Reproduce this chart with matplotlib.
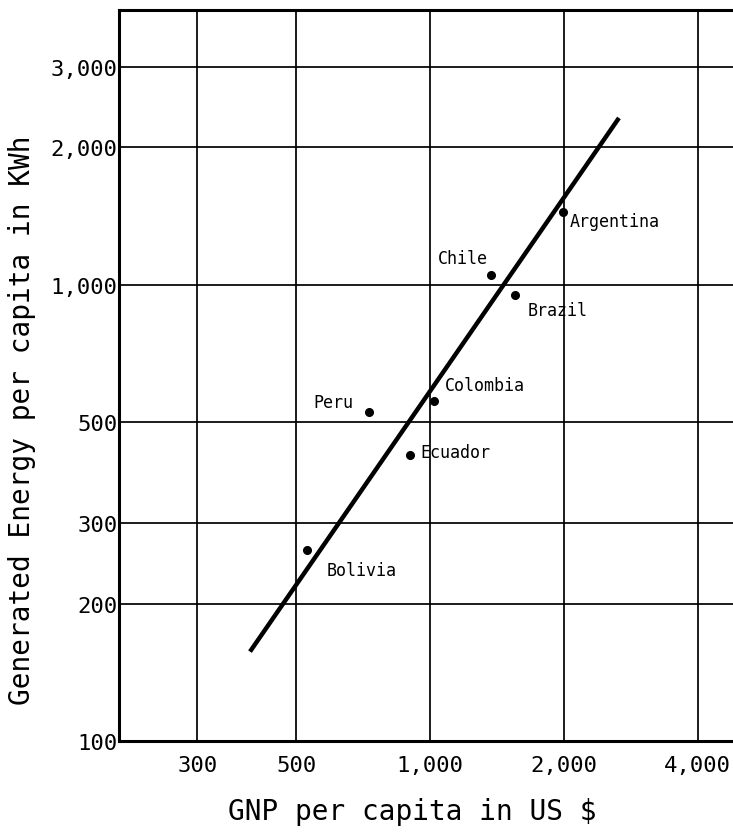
import matplotlib
matplotlib.use("Agg")
import matplotlib.pyplot as plt
from matplotlib.ticker import FixedLocator, FixedFormatter, NullLocator

# ---- data ----
countries = ["Argentina", "Chile", "Brazil", "Colombia", "Peru", "Ecuador", "Bolivia"]
gnp = [1990, 1375, 1555, 1020, 728, 900, 530]
energy = [1445, 1052, 951, 557, 527, 423, 262]

fit_gnp = [394, 2660]
fit_energy = [157, 2320]

x_ticks = [300, 500, 1000, 2000, 4000]
x_tick_labels = ["300", "500", "1,000", "2,000", "4,000"]
y_ticks = [100, 200, 300, 500, 1000, 2000, 3000]
y_tick_labels = ["100", "200", "300", "500", "1,000", "2,000", "3,000"]

# label placement: (ha, dx_px, dy_px)
label_pos = {
    "Argentina": ("left", 7, -9),
    "Chile": ("right", -4, 17),
    "Brazil": ("left", 12, -15),
    "Colombia": ("left", 11, 16),
    "Peru": ("right", -15, 10),
    "Ecuador": ("left", 11, 3),
    "Bolivia": ("left", 19, -20),
}

FONT = ["DejaVu Sans Mono"]
plt.rcParams["font.family"] = FONT

fig = plt.figure(figsize=(7.33, 8.37), dpi=100)
ax = fig.add_axes([119 / 733, 95 / 837, 1 - 119 / 733, (742 - 11) / 837])

ax.set_xscale("log")
ax.set_yscale("log")
ax.set_xlim(200, 4800)
ax.set_ylim(100, 4000)

ax.xaxis.set_major_locator(FixedLocator(x_ticks))
ax.xaxis.set_major_formatter(FixedFormatter(x_tick_labels))
ax.yaxis.set_major_locator(FixedLocator(y_ticks))
ax.yaxis.set_major_formatter(FixedFormatter(y_tick_labels))
ax.xaxis.set_minor_locator(NullLocator())
ax.yaxis.set_minor_locator(NullLocator())

ax.grid(True, which="major", color="black", linewidth=1.25)
ax.set_axisbelow(True)
ax.tick_params(axis="both", length=0, labelsize=16, colors="black")
ax.tick_params(axis="x", pad=10)
ax.tick_params(axis="y", pad=1)

for side in ["left", "top", "bottom"]:
    ax.spines[side].set_linewidth(2.2)
    ax.spines[side].set_color("black")
ax.spines["right"].set_visible(False)

ax.plot(fit_gnp, fit_energy, color="black", linewidth=3.2, solid_capstyle="butt", zorder=3)
ax.plot(gnp, energy, "o", color="black", markersize=5.5, zorder=4)

for c, x, y in zip(countries, gnp, energy):
    ha, dx, dy = label_pos[c]
    ax.annotate(c, (x, y), xytext=(dx, dy), textcoords="offset pixels",
                ha=ha, va="center", fontsize=12, color="black", zorder=5)

fig.text(412 / 733, 1 - 812 / 837, "GNP per capita in US $", ha="center", va="center",
         fontsize=20)
fig.text(22 / 733, 1 - 420 / 837, "Generated Energy per capita in KWh", ha="center",
         va="center", rotation=90, fontsize=20)

fig.savefig("out.png", dpi=100, facecolor="white")
